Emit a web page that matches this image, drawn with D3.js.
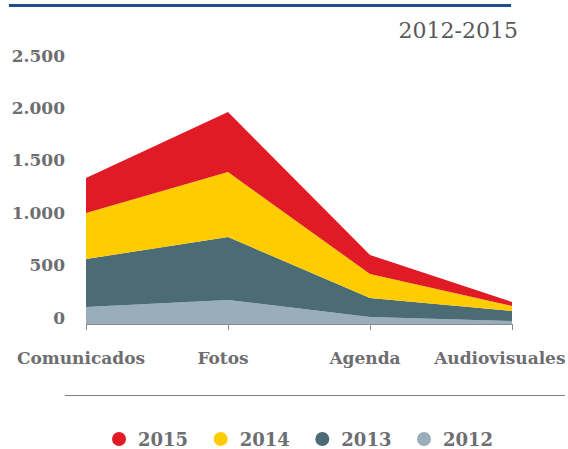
<!DOCTYPE html>
<html>
<head>
<meta charset="utf-8">
<script src="https://cdn.jsdelivr.net/npm/d3@7"></script>
<style>
  body { margin: 0; background: #fff; }
  svg { display: block; }
  text { font-family: "DejaVu Serif", serif; fill: #6d6e71; }
</style>
</head>
<body>
<svg></svg>
<script>
let width = 568, height = 449;

// data
const categories = ["Comunicados", "Fotos", "Agenda", "Audiovisuales"];
const years = ["2012", "2013", "2014", "2015"];
const v2012 = [162, 229, 67, 29];
const v2013 = [458, 601, 181, 95];
const v2014 = [439, 620, 229, 48];
const v2015 = [334, 573, 181, 38];
const yTicks = [0, 500, 1000, 1500, 2000, 2500];
const legendYears = ["2015", "2014", "2013", "2012"];

let svg = d3.select("svg")
    .attr("width", width)
    .attr("height", height);

let table = categories.map((c, i) => ({
    cat: c, "2012": v2012[i], "2013": v2013[i], "2014": v2014[i], "2015": v2015[i]
}));

let color = d3.scaleOrdinal()
    .domain(years)
    .range(["#9aaeba", "#4b6b75", "#ffcc00", "#e11b25"]);

let x = d3.scalePoint().domain(categories).range([86, 512]);
let y = d3.scaleLinear().domain([0, 2500]).range([324, 62]);

let fmt = d3.formatLocale({ decimal: ",", thousands: ".", grouping: [3], currency: ["", ""] }).format(",d");

// top rule
svg.append("line")
    .attr("x1", 9).attr("x2", 511)
    .attr("y1", 5.5).attr("y2", 5.5)
    .attr("stroke", "#1f4e8c")
    .attr("stroke-width", 3);

svg.append("text")
    .attr("x", 518).attr("y", 38)
    .attr("text-anchor", "end")
    .style("font-size", "22px")
    .style("fill", "#595959")
    .text("2012-2015");

// stacked areas
let series = d3.stack().keys(years)(table);

let area = d3.area()
    .x(d => x(d.data.cat))
    .y0(d => y(d[0]))
    .y1(d => y(d[1]));

svg.append("g")
    .selectAll("path")
    .data(series)
    .enter()
    .append("path")
    .attr("fill", d => color(d.key))
    .attr("d", area);

// y axis labels
let yAxis = svg.append("g")
    .attr("transform", "translate(65,0)")
    .call(d3.axisLeft(y).tickValues(yTicks).tickSize(0).tickPadding(0).tickFormat(fmt));
yAxis.select(".domain").remove();
yAxis.selectAll("text")
    .attr("dy", "-0.05em")
    .style("font-family", "DejaVu Serif, serif")
    .style("font-size", "17px")
    .style("font-weight", "bold")
    .style("fill", "#6d6e71");

// x axis: baseline and ticks
let xAxis = svg.append("g")
    .attr("transform", "translate(0,324)")
    .call(d3.axisBottom(x).tickSize(6).tickFormat(""));
xAxis.select(".domain")
    .attr("d", "M" + x.range()[0] + ",0.5H" + x.range()[1])
    .attr("stroke", "#8a8a8a");
xAxis.selectAll("line").attr("stroke", "#8a8a8a");

svg.append("g")
    .selectAll("text")
    .data(categories)
    .enter()
    .append("text")
    .attr("x", d => x(d) - 5)
    .attr("y", 364)
    .attr("text-anchor", "middle")
    .style("font-size", "17px")
    .style("font-weight", "bold")
    .text(d => d)
    .each(function () {
        // keep labels inside the page
        let b = this.getBBox();
        if (b.x + b.width > 566) d3.select(this).attr("x", 566 - b.width / 2);
        if (b.x < 13) d3.select(this).attr("x", 13 + b.width / 2);
    });

// legend separator
svg.append("line")
    .attr("x1", 65).attr("x2", 565)
    .attr("y1", 395.5).attr("y2", 395.5)
    .attr("stroke", "#808080");

// legend
let legendX = d3.scalePoint().domain(legendYears).range([119, 424]);

let legend = svg.append("g")
    .selectAll("g")
    .data(legendYears)
    .enter()
    .append("g")
    .attr("transform", d => "translate(" + legendX(d) + ",439)");

legend.append("circle")
    .attr("r", 7)
    .attr("fill", d => color(d));

legend.append("text")
    .attr("x", 19)
    .attr("y", 7)
    .style("font-size", "18px")
    .style("font-weight", "bold")
    .text(d => d);
</script>
</body>
</html>
